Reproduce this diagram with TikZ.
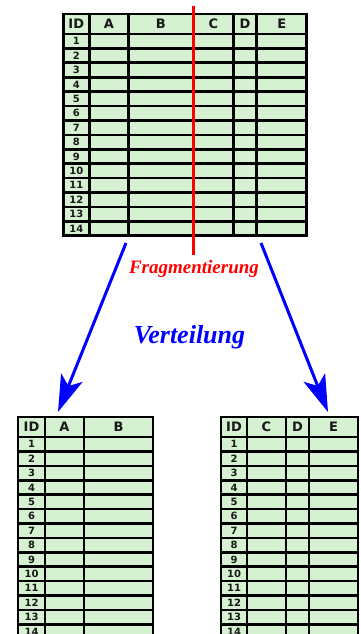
\documentclass[tikz,border=0pt]{standalone}
\usepackage{fontspec}
\setmainfont{Liberation Serif}
\newfontfamily\tabfont{DejaVu Sans}
\usetikzlibrary{arrows.meta}
\definecolor{tgreen}{RGB}{214,240,210}
\definecolor{tblue}{RGB}{0,0,255}
\definecolor{tred}{RGB}{255,0,0}
\definecolor{tink}{RGB}{25,25,25}
\tikzset{
  grid/.style={draw=black, line width=2.6pt},
  hdr/.style={font=\tabfont\fontsize{13}{13}\selectfont\bfseries, inner sep=0pt, text=tink},
  num/.style={font=\tabfont\fontsize{10}{10}\selectfont\bfseries, inner sep=0pt, text=tink},
  bluearrow/.style={draw=tblue, line width=3pt, -{Stealth[length=37pt,width=23pt,inset=9pt]}},
  redline/.style={draw=tred, line width=3pt},
  lbl/.style={inner sep=0pt, anchor=base}
}
% #1 xleft, #2 x of ID column right edge, #3 xright, #4 top, #5 list xa/xb/label of data columns
\newcommand\drawtab[5]{%
  \fill[tgreen] (#1,#4) rectangle (#3,{#4+221.6});
  \foreach \i in {1,...,14} {
    \node[num] at ({(#1+#2)/2},{#4+20+(\i-0.5)*14.4}) {\i};
    \draw[grid] (#1,{#4+20+(\i-1)*14.4}) -- (#3,{#4+20+(\i-1)*14.4});
  }
  \node[hdr] at ({(#1+#2)/2},{#4+10}) {ID};
  \foreach \xa/\xb/\lab in {#5} {
    \node[hdr] at ({(\xa+\xb)/2},{#4+10}) {\lab};
    \draw[grid] (\xa,#4) -- (\xa,{#4+221.6});
  }
  \draw[grid] (#1,#4) rectangle (#3,{#4+221.6});
}
\begin{document}
\begin{tikzpicture}[x=1pt,y=-1pt]
  \useasboundingbox (0,0) rectangle (360,634);
  \clip (0,0) rectangle (360,634);
  % top table
  \drawtab{63.3}{89.3}{306.7}{14}{89.3/128.3/A, 128.3/193.3/B, 193.3/233.3/C, 233.3/256.7/D, 256.7/306.7/E}
  % bottom left table
  \drawtab{18}{45}{153}{417}{45/84/A, 84/153/B}
  % bottom right table
  \drawtab{221}{247}{358}{417}{247/286/C, 286/309/D, 309/358/E}
  % fragmentation line
  \coordinate (rtop) at (193.3,6);
  \coordinate (rbot) at (193.3,255);
  \draw[redline] (rtop) -- (rbot);
  % labels
  \node[lbl, text=tred, font=\bfseries\itshape\fontsize{19}{19}\selectfont] (frag) at (194,273) {Fragmentierung};
  \node[lbl, text=tblue, font=\bfseries\itshape\fontsize{26}{26}\selectfont] (vert) at (189.5,343) {Verteilung};
  % distribution arrows
  \coordinate (la) at (126,243);
  \coordinate (lb) at (58,412);
  \coordinate (ra) at (261,243);
  \coordinate (rb) at (328,412);
  \draw[bluearrow] (la) -- (lb);
  \draw[bluearrow] (ra) -- (rb);
\end{tikzpicture}
\end{document}
